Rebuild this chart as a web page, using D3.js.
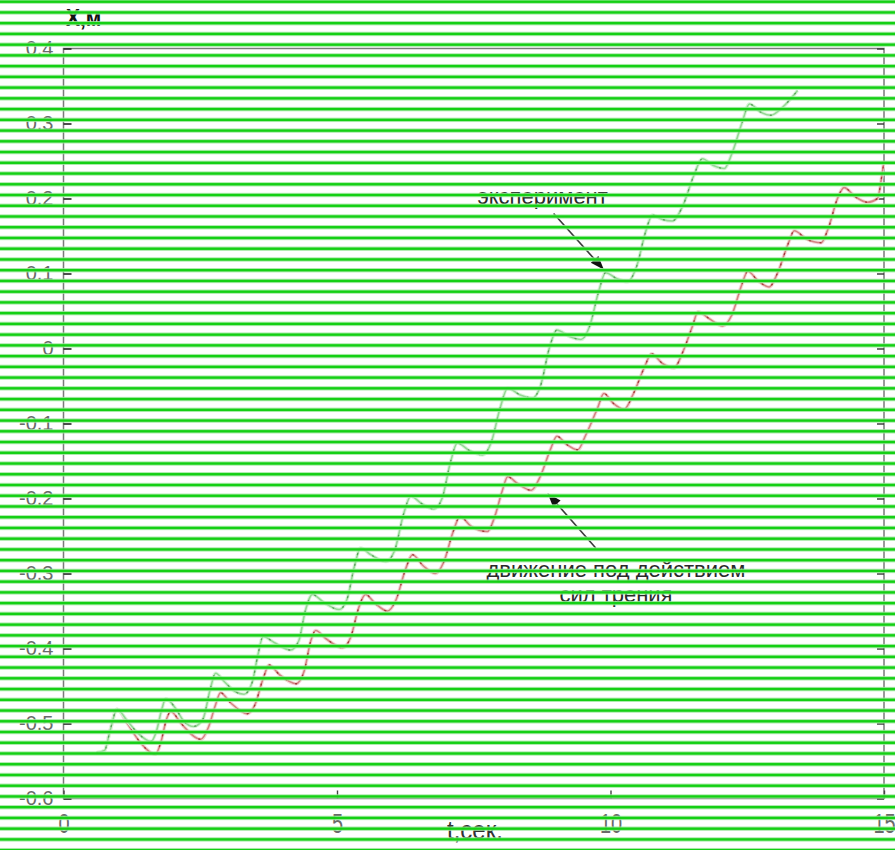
<!DOCTYPE html>
<html>
<head>
<meta charset="utf-8">
<script src="https://cdn.jsdelivr.net/npm/d3@7"></script>
<style>
  html, body { margin: 0; padding: 0; background: #fff; overflow: hidden; }
  svg { display: block; }
</style>
</head>
<body>
<svg id="chart" width="895" height="850"></svg>
<script>
// Measured displacement X (m) against time t (s)
const experimentT = [0.60,0.75,0.85,0.98,1.15,1.35,1.60,1.70,1.80,1.87,2.05,2.20,2.38,2.55,2.68,2.78,2.95,3.15,3.30,3.45,3.55,3.65,3.85,4.15,4.30,4.42,4.55,4.75,5.04,5.18,5.32,5.43,5.62,5.89,6.05,6.22,6.35,6.55,6.77,6.92,7.08,7.20,7.42,7.66,7.82,7.98,8.12,8.35,8.57,8.72,8.88,9.02,9.25,9.46,9.62,9.78,9.91,10.12,10.31,10.48,10.64,10.77,10.95,11.13,11.32,11.52,11.68,11.88,12.08,12.22,12.40,12.54,12.75,12.93,13.15,13.42];
const experimentX = [-0.539,-0.536,-0.51,-0.481,-0.495,-0.512,-0.524,-0.51,-0.48,-0.467,-0.48,-0.497,-0.504,-0.494,-0.455,-0.433,-0.445,-0.458,-0.461,-0.445,-0.41,-0.384,-0.392,-0.402,-0.39,-0.35,-0.328,-0.338,-0.348,-0.335,-0.29,-0.266,-0.275,-0.284,-0.27,-0.22,-0.197,-0.207,-0.214,-0.20,-0.15,-0.126,-0.136,-0.142,-0.125,-0.08,-0.053,-0.062,-0.066,-0.05,0.00,0.0245,0.016,0.012,0.03,0.075,0.101,0.093,0.089,0.11,0.155,0.178,0.172,0.170,0.19,0.23,0.253,0.244,0.240,0.26,0.30,0.326,0.315,0.311,0.322,0.344];

// Computed motion under friction forces
const frictionT = [0.60,0.75,0.85,0.98,1.15,1.40,1.68,1.78,1.88,1.96,2.15,2.51,2.65,2.78,2.87,3.05,3.36,3.50,3.65,3.76,3.95,4.25,4.40,4.52,4.61,4.80,5.10,5.25,5.40,5.52,5.70,5.92,6.08,6.25,6.38,6.58,6.80,6.95,7.12,7.25,7.45,7.75,7.88,8.02,8.12,8.30,8.55,8.72,8.90,9.02,9.20,9.40,9.55,9.76,9.88,10.05,10.25,10.42,10.62,10.75,10.95,11.16,11.32,11.50,11.60,11.80,12.05,12.22,12.40,12.51,12.70,12.90,13.05,13.25,13.36,13.58,13.85,13.98,14.15,14.27,14.48,14.70,14.88,14.96,15.0];
const frictionX = [-0.539,-0.536,-0.51,-0.481,-0.498,-0.525,-0.541,-0.525,-0.495,-0.484,-0.500,-0.521,-0.505,-0.475,-0.459,-0.472,-0.487,-0.475,-0.44,-0.422,-0.435,-0.447,-0.43,-0.39,-0.376,-0.387,-0.399,-0.385,-0.345,-0.328,-0.340,-0.350,-0.335,-0.295,-0.275,-0.290,-0.300,-0.285,-0.245,-0.224,-0.237,-0.244,-0.225,-0.19,-0.171,-0.18,-0.189,-0.17,-0.135,-0.117,-0.128,-0.135,-0.115,-0.08,-0.060,-0.073,-0.081,-0.06,-0.025,-0.007,-0.020,-0.026,-0.005,0.03,0.049,0.040,0.030,0.045,0.085,0.103,0.090,0.082,0.10,0.14,0.157,0.146,0.141,0.16,0.20,0.2145,0.202,0.195,0.200,0.23,0.25];

const xTickValues = [0, 5, 10, 15];
const xTickLabels = ["0", "5", "10", "15"];
const yTickValues = [0.4, 0.3, 0.2, 0.1, 0, -0.1, -0.2, -0.3, -0.4, -0.5, -0.6];
const yTickLabels = ["0.4", "0.3", "0.2", "0.1", "0", "-0.1", "-0.2", "-0.3", "-0.4", "-0.5", "-0.6"];

const W = 895, H = 850;
const plotL = 63.5, plotR = 884, plotT = 48.5, plotB = 798.5;

const svg = d3.select("#chart");
svg.append("rect").attr("width", W).attr("height", H).attr("fill", "#fff");

const x = d3.scaleLinear().domain([0, 15]).range([plotL, plotR]);
const y = d3.scaleLinear().domain([-0.6, 0.4]).range([plotB, plotT]);

const FONT = "'Liberation Sans', Arial, sans-serif";

// frame
svg.append("rect")
  .attr("x", plotL).attr("y", plotT)
  .attr("width", plotR - plotL).attr("height", plotB - plotT)
  .attr("fill", "none").attr("stroke", "#7a7a7a").attr("stroke-width", 1.5);

// left axis with inward ticks
const gl = svg.append("g").attr("transform", `translate(${plotL},0)`)
  .call(d3.axisLeft(y).tickValues(yTickValues).tickSize(-8).tickSizeOuter(0)
    .tickPadding(10).tickFormat((d, i) => yTickLabels[i]));
gl.select(".domain").remove();
gl.selectAll(".tick line").attr("stroke", "#222").attr("stroke-width", 1.6);
gl.selectAll(".tick text")
  .attr("font-family", FONT).attr("font-size", 20).attr("fill", "#6a6a6a")
  .attr("dy", "0.30em");

// right axis ticks
const gr = svg.append("g").attr("transform", `translate(${plotR},0)`)
  .call(d3.axisRight(y).tickValues(yTickValues).tickSize(-7).tickSizeOuter(0).tickFormat(""));
gr.select(".domain").remove();
gr.selectAll(".tick line").attr("stroke", "#333").attr("stroke-width", 1.4);

// bottom axis with inward ticks
const gb = svg.append("g").attr("transform", `translate(0,${plotB})`)
  .call(d3.axisBottom(x).tickValues(xTickValues).tickSize(-8).tickSizeOuter(0)
    .tickPadding(0).tickFormat(""));
gb.select(".domain").remove();
gb.selectAll(".tick line").attr("stroke", "#444").attr("stroke-width", 1.4);
gb.selectAll(".tick").append("text")
  .attr("text-anchor", "middle")
  .attr("transform", "translate(0,34) scale(1,1.35)")
  .attr("font-family", FONT).attr("font-size", 20).attr("fill", "#6a6a6a")
  .text((d, i) => xTickLabels[i]);

// axis titles
svg.append("text")
  .attr("transform", "translate(66,26) scale(1,1.15)")
  .attr("font-family", FONT).attr("font-size", 21).attr("font-weight", "bold")
  .attr("fill", "#111").text("X,м");
svg.append("text")
  .attr("transform", "translate(447,839) scale(1,1.1)")
  .attr("font-family", FONT).attr("font-size", 24).attr("fill", "#333")
  .text("t,сек.");

// curves
const line = d3.line().x(d => x(d[0])).y(d => y(d[1])).curve(d3.curveMonotoneX);
const experiment = experimentT.map((t, i) => [t, experimentX[i]]);
const friction = frictionT.map((t, i) => [t, frictionX[i]]);

svg.append("clipPath").attr("id", "plot-clip")
  .append("rect").attr("x", plotL).attr("y", plotT).attr("width", plotR - plotL + 1).attr("height", plotB - plotT);

const curves = svg.append("g").attr("clip-path", "url(#plot-clip)");
function drawCurve(data, halo, core, dark) {
  curves.append("path").datum(data).attr("d", line)
    .attr("fill", "none").attr("stroke", halo).attr("stroke-width", 3.6);
  curves.append("path").datum(data).attr("d", line)
    .attr("fill", "none").attr("stroke", core).attr("stroke-width", 1.6);
  curves.append("path").datum(data).attr("d", line)
    .attr("fill", "none").attr("stroke", dark).attr("stroke-width", 1.3)
    .attr("stroke-dasharray", "2 9");
}
drawCurve(friction, "#f4dada", "#d68484", "#a33a3a");
drawCurve(experiment, "#dcf5dc", "#96d896", "#5e9e5e");

// annotations with arrows, anchored in data coordinates
const annotations = [
  { lines: ["эксперимент"], tx: 8.76, ty: 0.192, from: [8.96, 0.180], to: [9.88, 0.105] },
  { lines: ["движение под действием", "сил трения"], tx: 10.1, ty: -0.306, from: [9.73, -0.266], to: [8.85, -0.193] }
];
annotations.forEach(a => {
  a.lines.forEach((s, i) => {
    svg.append("text")
      .attr("x", x(a.tx)).attr("y", y(a.ty) - 1 + i * 25)
      .attr("text-anchor", "middle")
      .attr("font-family", FONT).attr("font-size", 22).attr("fill", "#2a2a2a")
      .text(s);
  });
  const x0 = x(a.from[0]), y0 = y(a.from[1]), x1 = x(a.to[0]), y1 = y(a.to[1]);
  const ang = Math.atan2(y1 - y0, x1 - x0);
  const L = 14, Wd = 5;
  const bx = x1 - L * Math.cos(ang), by = y1 - L * Math.sin(ang);
  svg.append("line").attr("x1", x0).attr("y1", y0).attr("x2", bx).attr("y2", by)
    .attr("stroke", "#3a3a3a").attr("stroke-width", 1.6);
  svg.append("path")
    .attr("d", `M${x1},${y1}L${bx + Wd * Math.sin(ang)},${by - Wd * Math.cos(ang)}L${bx - Wd * Math.sin(ang)},${by + Wd * Math.cos(ang)}Z`)
    .attr("fill", "#111");
});

// horizontal green ruling across the whole sheet
const stripeStep = 10.74, stripeStart = 1.7;
const stripes = d3.range(0, 80).map(k => stripeStart + k * stripeStep).filter(v => v < H + 2);
const sg = svg.append("g");
sg.selectAll("rect.halo").data(stripes).join("rect").attr("class", "halo")
  .attr("x", 0).attr("width", W).attr("y", d => d - 2.2).attr("height", 4.4)
  .attr("fill", "#9fe89f").attr("opacity", 0.85);
sg.selectAll("rect.core").data(stripes).join("rect").attr("class", "core")
  .attr("x", 0).attr("width", W).attr("y", d => d - 1.2).attr("height", 2.4)
  .attr("fill", "#14d014");
</script>
</body>
</html>
